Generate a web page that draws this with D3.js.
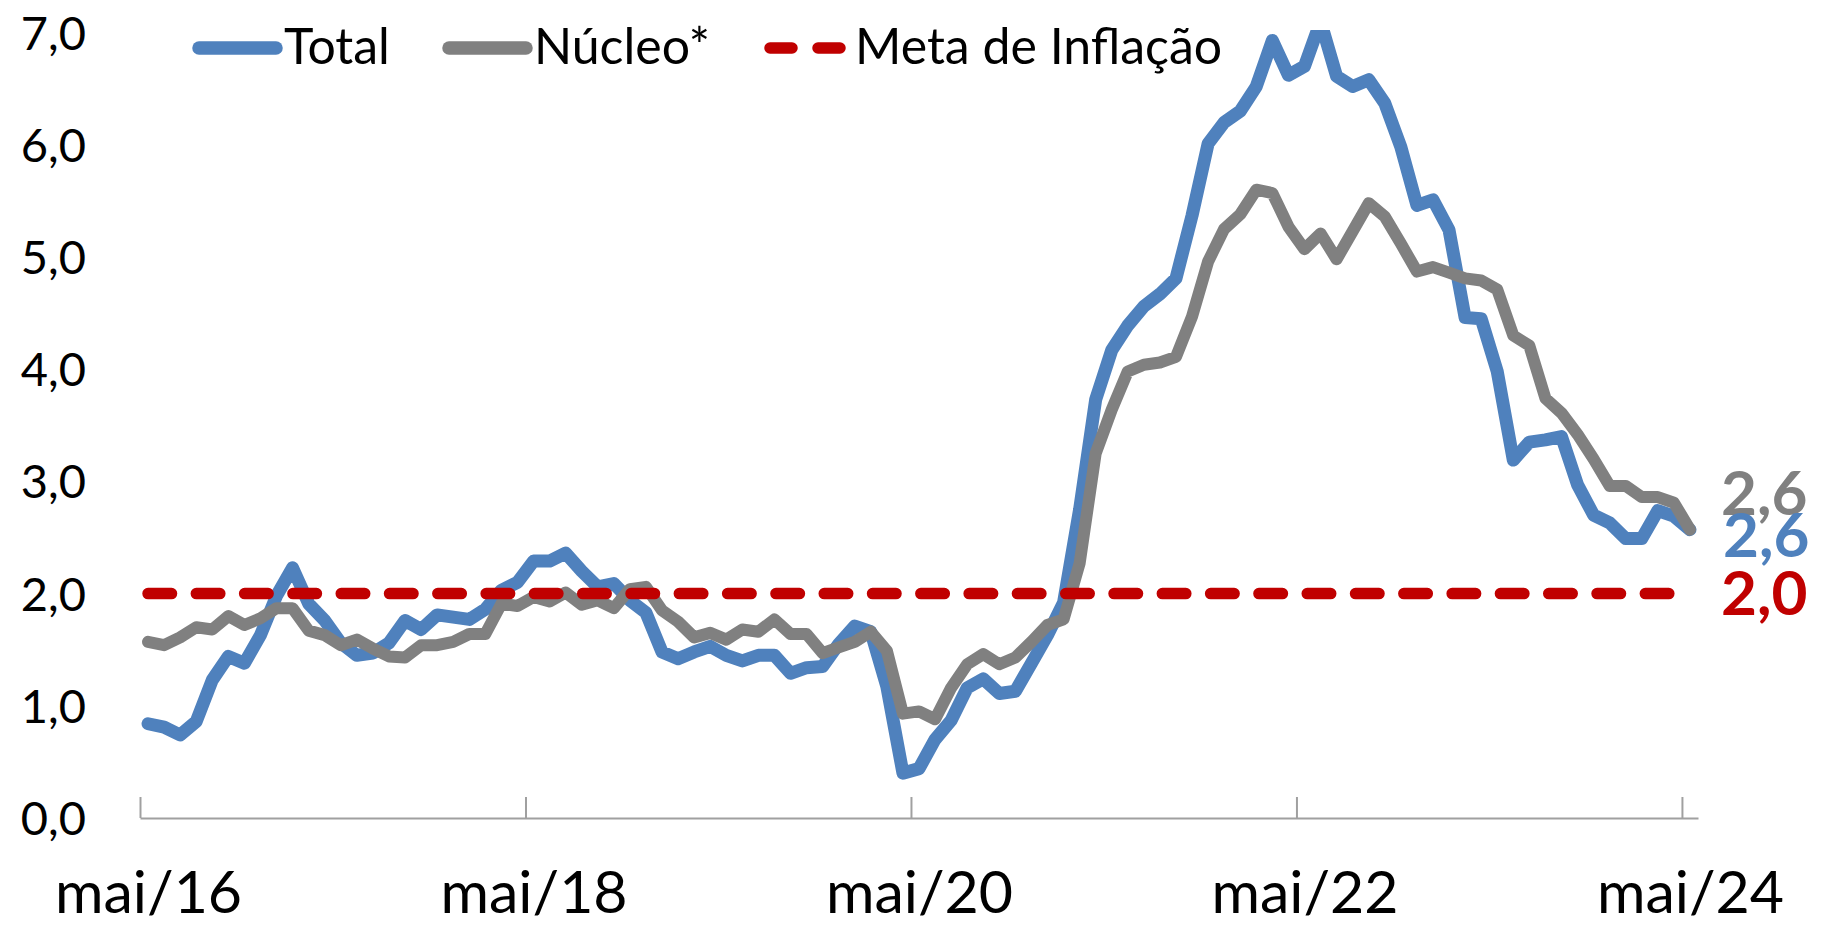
<!DOCTYPE html>
<html>
<head>
<meta charset="utf-8">
<script src="https://cdn.jsdelivr.net/npm/d3@7/dist/d3.min.js"></script>
<style>
  body { margin: 0; background: #fff; }
  svg text { font-family: Lato, "Open Sans", sans-serif; }
</style>
</head>
<body>
<div id="svgcontainer"></div>
<script>

// inflação anual, mai/16 ate mai/24 (mensal)
var total = [
  0.84, 0.81, 0.74, 0.86, 1.23, 1.44, 1.38, 1.63, 1.98, 2.23, 1.91, 1.76,
  1.56, 1.45, 1.47, 1.56, 1.76, 1.68, 1.81, 1.79, 1.77, 1.86, 2.03, 2.10,
  2.29, 2.29, 2.36, 2.20, 2.06, 2.09, 1.94, 1.83, 1.48, 1.42, 1.48, 1.53,
  1.45, 1.40, 1.45, 1.45, 1.29, 1.34, 1.35, 1.55, 1.71, 1.66, 1.17, 0.40,
  0.44, 0.70, 0.87, 1.16, 1.24, 1.11, 1.13, 1.38, 1.63, 1.92, 2.75, 3.73,
  4.17, 4.39, 4.56, 4.67, 4.81, 5.37, 6.01, 6.20, 6.30, 6.52, 6.93, 6.62,
  6.70, 7.10, 6.61, 6.52, 6.58, 6.37, 5.98, 5.46, 5.51, 5.24, 4.46, 4.45,
  3.98, 3.19, 3.35, 3.37, 3.40, 2.97, 2.70, 2.63, 2.49, 2.49, 2.74, 2.69,
  2.57
];

var nucleo = [
  1.57, 1.54, 1.61, 1.70, 1.68, 1.80, 1.72, 1.78, 1.87, 1.87, 1.67, 1.63,
  1.54, 1.59, 1.51, 1.44, 1.43, 1.54, 1.54, 1.57, 1.64, 1.64, 1.91, 1.89,
  1.97, 1.93, 2.01, 1.90, 1.94, 1.87, 2.04, 2.06, 1.85, 1.75, 1.61, 1.65,
  1.59, 1.68, 1.66, 1.77, 1.64, 1.64, 1.47, 1.52, 1.57, 1.66, 1.49, 0.93,
  0.95, 0.88, 1.16, 1.37, 1.46, 1.37, 1.43, 1.57, 1.72, 1.77, 2.27, 3.25,
  3.64, 3.98, 4.04, 4.06, 4.11, 4.47, 4.96, 5.25, 5.38, 5.60, 5.57, 5.27,
  5.07, 5.21, 4.98, 5.23, 5.48, 5.36, 5.12, 4.87, 4.91, 4.86, 4.81, 4.79,
  4.71, 4.30, 4.21, 3.74, 3.61, 3.42, 3.20, 2.96, 2.96, 2.86, 2.86, 2.81,
  2.57
];

var metaInflacao = 2.0;

var mesesPt = ["jan","fev","mar","abr","mai","jun","jul","ago","set","out","nov","dez"];
var meses = d3.range(total.length).map(function(i){
  return mesesPt[(4 + i) % 12] + "/" + (16 + Math.floor((4 + i) / 12));
});
var xTickMonths = [0, 24, 48, 72, 96];
var yTicks = [0, 1, 2, 3, 4, 5, 6, 7];

var legendItems = ["Total", "Núcleo*", "Meta de Inflação"];
var colors = {total: "#4F81BD", nucleo: "#808080", meta: "#C00000"};

var width = 1834, height = 926,
    svg = d3.select("div#svgcontainer")
            .append("svg")
            .attr("width", width)
            .attr("height", height);

var x = d3.scaleLinear().domain([0, total.length]).range([140, 1698]);
var y = d3.scaleLinear().domain([0, 7]).range([818, 32.6]);

var fmt = function(v){ return d3.format(".1f")(v).replace(".", ","); };

svg.append("clipPath").attr("id", "plotclip")
   .append("rect")
   .attr("x", 0).attr("y", y(7) - 2.6)
   .attr("width", width).attr("height", y(0) - y(7) + 40);

// eixo x
var gx = svg.append("g")
    .attr("transform", "translate(0," + y(0) + ")")
    .call(d3.axisBottom(x)
            .tickValues(xTickMonths)
            .tickSizeInner(-21)
            .tickSizeOuter(0)
            .tickFormat(function(i){ return meses[i]; }));
gx.attr("font-family", null).attr("font-size", null);
gx.select(".domain").attr("stroke", "#a0a0a0").attr("stroke-width", 2);
gx.selectAll(".tick line").attr("stroke", "#a0a0a0").attr("stroke-width", 2);
gx.selectAll(".tick text")
  .attr("x", x(0.5) - x(0))
  .attr("y", 95)
  .attr("dy", 0)
  .attr("fill", "#000")
  .style("font-size", "59px");

// rotulos y
svg.append("g").selectAll("text")
   .data(yTicks)
   .enter().append("text")
   .attr("x", 86)
   .attr("y", function(d){ return y(d); })
   .attr("dy", "0.36em")
   .attr("text-anchor", "end")
   .style("font-size", "47px")
   .text(fmt);

var line = d3.line()
    .curve(d3.curveLinear)
    .x(function(d, i){ return x(i + 0.5); })
    .y(function(d){ return y(d); });

var plot = svg.append("g").attr("clip-path", "url(#plotclip)");

plot.append("path")
    .attr("d", line(total))
    .attr("fill", "none")
    .attr("stroke", colors.total)
    .attr("stroke-width", 13)
    .attr("stroke-linejoin", "round")
    .attr("stroke-linecap", "round");

plot.append("path")
    .attr("d", line(nucleo))
    .attr("fill", "none")
    .attr("stroke", colors.nucleo)
    .attr("stroke-width", 12)
    .attr("stroke-linejoin", "round")
    .attr("stroke-linecap", "round");

plot.append("line")
    .attr("x1", x(0.5)).attr("x2", x(total.length - 0.5))
    .attr("y1", y(metaInflacao)).attr("y2", y(metaInflacao))
    .attr("stroke", colors.meta)
    .attr("stroke-width", 11.5)
    .attr("stroke-linecap", "round")
    .attr("stroke-dasharray", "23.5,24.8");

// rotulos finais
var last = total.length - 1;
svg.append("text")
   .attr("x", 1721).attr("y", y(nucleo[last]) - 15)
   .attr("fill", colors.nucleo)
   .style("font-size", "62px").style("font-weight", "bold")
   .text(fmt(nucleo[last]));
svg.append("text")
   .attr("x", 1723).attr("y", y(total[last]) + 27)
   .attr("fill", colors.total)
   .style("font-size", "62px").style("font-weight", "bold")
   .text(fmt(total[last]));
svg.append("text")
   .attr("x", 1721).attr("y", y(metaInflacao) + 21)
   .attr("fill", colors.meta)
   .style("font-size", "62px").style("font-weight", "bold")
   .text(fmt(metaInflacao));

// legenda
var legendX = [199, 449, 770];
var legendColor = [colors.total, colors.nucleo, colors.meta];
var lg = svg.append("g").selectAll("g")
    .data(legendItems)
    .enter().append("g")
    .attr("transform", function(d, i){ return "translate(" + legendX[i] + ",48)"; });

lg.append("line")
  .attr("x1", 0).attr("x2", 77)
  .attr("y1", 0).attr("y2", 0)
  .attr("stroke", function(d, i){ return legendColor[i]; })
  .attr("stroke-width", function(d, i){ return i == 2 ? 11.5 : 13.5; })
  .attr("stroke-linecap", "round")
  .attr("stroke-dasharray", function(d, i){ return i == 2 ? "22,26" : null; });

lg.append("text")
  .attr("x", 85)
  .attr("y", 16)
  .style("font-size", "50px")
  .text(function(d){ return d; });

</script>
</body>
</html>
